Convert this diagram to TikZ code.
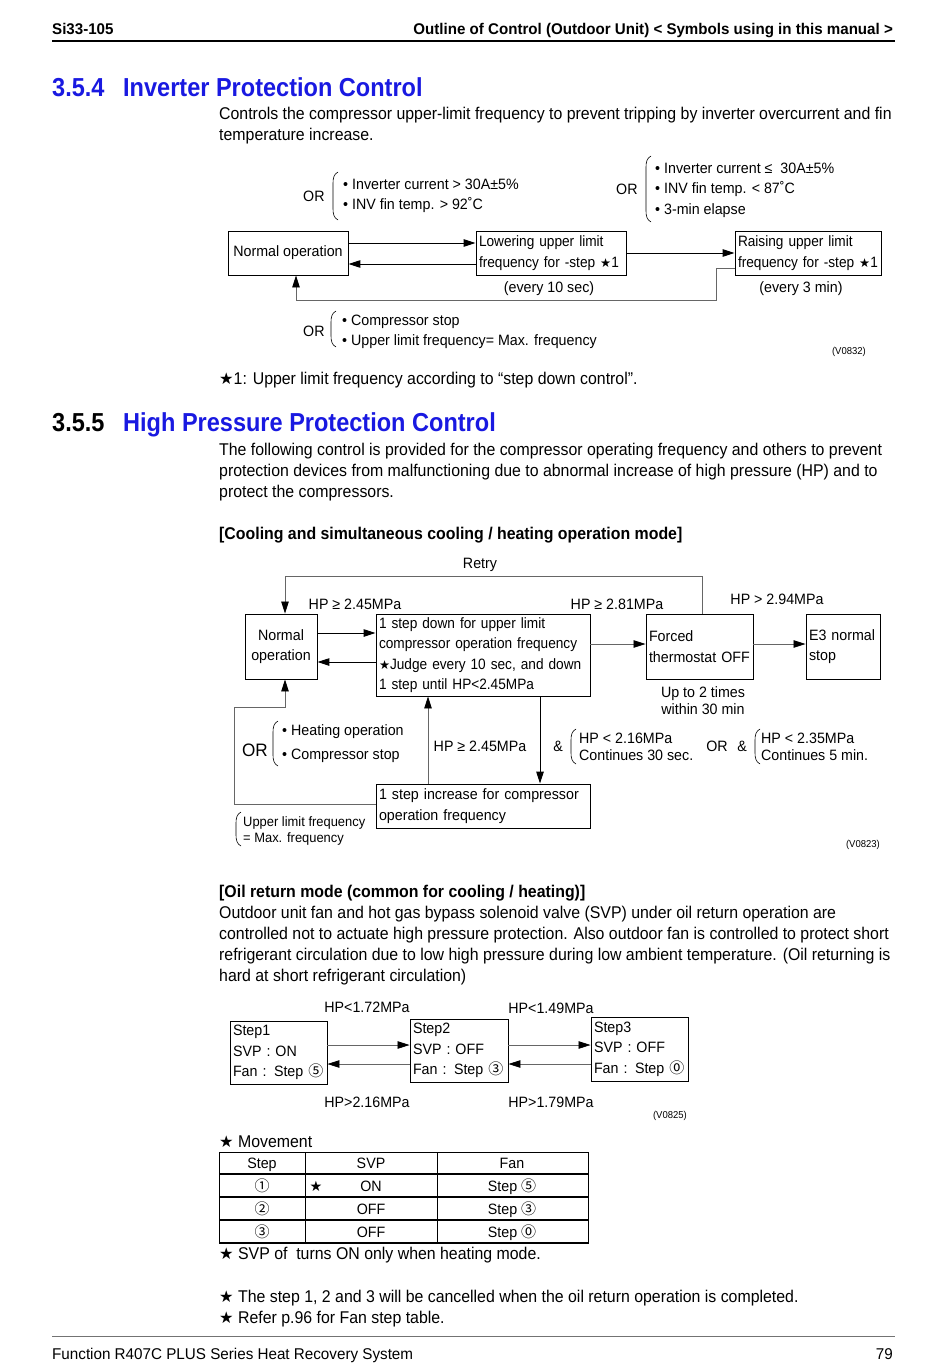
\documentclass[tikz,border=0pt]{standalone}
\usepackage{fontspec}
\setmainfont{Liberation Sans}
\newfontfamily\bodyf{Liberation Sans}[FakeStretch=0.934]
\newfontfamily\hdrf{Liberation Sans}[FakeStretch=0.975]
\newfontfamily\headf{Liberation Sans}[FakeStretch=0.905]
\newfontfamily\diagf{Liberation Sans}[FakeStretch=0.95]
\newfontfamily\diagn{Liberation Sans}[FakeStretch=0.91]
\newfontfamily\symf{DejaVu Sans}[Scale=0.95]
\newfontfamily\cjkf{Noto Sans CJK JP}[Scale=1.0]
\usetikzlibrary{arrows.meta,calc}
\definecolor{hblue}{RGB}{25,25,225}
\newcommand\st{{\symf ★}}
\newcommand\stb{{\symf\fontsize{13}{13}\selectfont ★}}
\newcommand\cn[1]{{\cjkf #1}}
\newcommand\fb{\bodyf\fontsize{17}{21}\selectfont}
\newcommand\fbb{\bodyf\bfseries\fontsize{17}{21}\selectfont}
\newcommand\fd{\diagf\fontsize{15}{20.5}\selectfont}
\newcommand\fdn{\diagn\fontsize{15}{20.5}\selectfont}
\newcommand\fs{\diagf\fontsize{13.6}{16}\selectfont}
\newcommand\fv{\diagf\fontsize{10}{12}\selectfont}
\newcommand\fh{\headf\bfseries\fontsize{26}{30}\selectfont}
\newcommand\fhd{\hdrf\bfseries\fontsize{15.5}{18}\selectfont}
\newcommand\fft{\hdrf\fontsize{15.6}{18}\selectfont}
\newcommand\brk[3]{\draw[brc] (#1+5,#2) .. controls (#1+1,#2+2) and (#1,#2+6) .. (#1,#2+11) -- (#1,#3-11) .. controls (#1,#3-6) and (#1+1,#3-2) .. (#1+5,#3);}
\begin{document}
\begin{tikzpicture}[x=1pt,y=-1pt,
  tx/.style={anchor=base west, inner sep=0pt, font=\fb},
  dx/.style={anchor=base west, inner sep=0pt, font=\fd},
  dc/.style={anchor=base, inner sep=0pt, font=\fd},
  box/.style={draw, line width=0.9pt, inner sep=3pt, font=\fd},
  arr/.style={line width=1pt, -{Triangle[length=12pt,width=7.5pt]}},
  arrg/.style={line width=0.7pt, draw=black!60, -{Triangle[length=12pt,width=7.5pt,color=black]}},
  brc/.style={line width=0.6pt}]
\useasboundingbox (0,0) rectangle (950,1370);
\fill[white] (0,0) rectangle (950,1370);

% header
\node[anchor=base west, inner sep=0pt, font=\fhd] (h1) at (52,35) {Si33-105};
\node[anchor=base east, inner sep=0pt, font=\fhd] (h2) at (893,35) {Outline of Control (Outdoor Unit) < Symbols using in this manual >};
\draw[line width=1.4pt] (52,41) -- (895,41);

% 3.5.4
\node[anchor=base west, inner sep=0pt, font=\fh, text=hblue] (n354) at (52,97) {3.5.4};
\node[anchor=base west, inner sep=0pt, font=\fh, text=hblue] (t354) at (123,97) {Inverter Protection Control};
\node[tx] (b1) at (219,120) {Controls the compressor upper-limit frequency to prevent tripping by inverter overcurrent and fin};
\node[tx] (b2) at (219,141) {temperature increase.};

% top diagram
\node[box, minimum width=120pt, minimum height=44pt] (no1) at (288,253) {Normal operation};
\node[box, font=\fdn, text width=144pt, align=left, minimum height=44pt] (lo) at (551,253) {\mbox{Lowering upper limit}\\\mbox{frequency for -step \stb1}};
\node[box, font=\fdn, text width=140pt, align=left, minimum height=44pt] (ra) at (808,253) {\mbox{Raising upper limit}\\\mbox{frequency for -step \stb1}};
\draw[arr] (no1.east |- 0,243) -- (lo.west |- 0,243);
\draw[arr] (lo.west |- 0,264) -- (no1.east |- 0,264);
\draw[arr] (lo.east) -- (ra.west);
\draw[arrg] (ra.west |- 0,268) -| (716,300) -| (no1.south -| 296,0);

\node[dx] (or1) at (303,201) {OR};
\brk{333}{172}{220}
\node[dx] (c1a) at (343,189) {• Inverter current > 30A±5\%};
\node[dx] (c1b) at (343,209) {• INV fin temp. > 92˚C};
\node[dx] (or2) at (616,194) {OR};
\brk{646}{156}{222}
\node[dx] (c2a) at (655,173) {• Inverter current ≤\ \ 30A±5\%};
\node[dx] (c2b) at (655,193) {• INV fin temp. < 87˚C};
\node[dx] (c2c) at (655,214) {• 3-min elapse};
\node[dc] (ev1) at (549,292) {(every 10 sec)};
\node[dc] (ev2) at (801,292) {(every 3 min)};
\node[dx] (or3) at (303,336) {OR};
\brk{331}{311}{347}
\node[dx] (c3a) at (342,325) {• Compressor stop};
\node[dx] (c3b) at (342,345) {• Upper limit frequency= Max. frequency};
\node[anchor=base east, inner sep=0pt, font=\fv] (v1) at (866,354) {(V0832)};
\node[tx] (fn1) at (219,384) {\st1: Upper limit frequency according to “step down control”.};

% 3.5.5
\node[anchor=base west, inner sep=0pt, font=\fh] (n355) at (52,431) {3.5.5};
\node[anchor=base west, inner sep=0pt, font=\fh, text=hblue] (t355) at (123,431) {High Pressure Protection Control};
\node[tx] (b3) at (219,455) {The following control is provided for the compressor operating frequency and others to prevent};
\node[tx] (b4) at (219,476) {protection devices from malfunctioning due to abnormal increase of high pressure (HP) and to};
\node[tx] (b5) at (219,497) {protect the compressors.};
\node[tx, font=\fbb] (sub1) at (219,539) {[Cooling and simultaneous cooling / heating operation mode]};

% middle diagram
\node[box, align=center, minimum width=72pt, minimum height=65pt] (nm) at (281,646.5) {Normal\\operation};
\node[box, font=\fdn, text width=208pt, align=left, minimum height=82pt] (sd) at (483,655) {\mbox{1 step down for upper limit}\\\mbox{compressor operation frequency}\\\mbox{\stb Judge every 10 sec, and down}\\\mbox{1 step until HP<2.45MPa}};
\node[box, text width=101pt, align=left, minimum height=65pt] (fo) at (699.5,646.5) {Forced\\\mbox{thermostat OFF}};
\node[box, text width=68pt, align=left, minimum height=65pt] (e3) at (843,646.5) {\mbox{E3 normal}\\stop};
\node[box, text width=208pt, align=left, minimum height=44pt] (inc) at (483,806) {\mbox{1 step increase for compressor}\\\mbox{operation frequency}};

\draw[arr] (nm.east |- 0,633) -- (sd.west |- 0,633);
\draw[arr] (sd.west |- 0,662) -- (nm.east |- 0,662);
\draw[arrg] (sd.east |- 0,644) -- (fo.west |- 0,644);
\draw[arrg] (fo.east |- 0,644) -- (e3.west |- 0,644);
\draw[arrg] (fo.north -| 702,0) |- (285,576) -- (nm.north -| 285,0);
\draw[arrg] (inc.north -| 428,0) -- (sd.south -| 428,0);
\draw[arr] (sd.south -| 540,0) -- (inc.north -| 540,0);
\draw[arrg] (inc.west |- 0,804) -| (234,707) -| (nm.south -| 285,0);

\node[dc] (rt) at (480,568) {Retry};
\node[dc] (hp1) at (355,609) {HP ≥ 2.45MPa};
\node[dc] (hp2) at (617,609) {HP ≥ 2.81MPa};
\node[dc] (hp3) at (777,604) {HP > 2.94MPa};
\node[dc] (up1) at (703,697) {Up to 2 times};
\node[dc] (up2) at (703,714) {within 30 min};
\node[dc] (hp4) at (480,751) {HP ≥ 2.45MPa};
\node[dc] (amp1) at (558,751) {\&};
\brk{571}{729}{764}
\node[dx] (d1a) at (579,743) {HP < 2.16MPa};
\node[dx] (d1b) at (579,760) {Continues 30 sec.};
\node[dc] (or5) at (717,751) {OR};
\node[dc] (amp2) at (742,751) {\&};
\brk{755}{729}{764}
\node[dx] (d2a) at (761,743) {HP < 2.35MPa};
\node[dx] (d2b) at (761,760) {Continues 5 min.};
\node[anchor=base, inner sep=0pt, font=\diagf\fontsize{18}{20}\selectfont] (or4) at (255,756) {OR};
\brk{273}{721}{766}
\node[dx] (d3a) at (282,735) {• Heating operation};
\node[dx] (d3b) at (282,759) {• Compressor stop};
\brk{236}{812}{846}
\node[anchor=base west, inner sep=0pt, font=\fs] (d4a) at (243,826) {Upper limit frequency};
\node[anchor=base west, inner sep=0pt, font=\fs] (d4b) at (243,842) {= Max. frequency};
\node[anchor=base east, inner sep=0pt, font=\fv] (v2) at (880,847) {(V0823)};

% oil return
\node[tx, font=\fbb] (sub2) at (219,897) {[Oil return mode (common for cooling / heating)]};
\node[tx] (b6) at (219,918) {Outdoor unit fan and hot gas bypass solenoid valve (SVP) under oil return operation are};
\node[tx] (b7) at (219,939) {controlled not to actuate high pressure protection. Also outdoor fan is controlled to protect short};
\node[tx] (b8) at (219,960) {refrigerant circulation due to low high pressure during low ambient temperature. (Oil returning is};
\node[tx] (b9) at (219,981) {hard at short refrigerant circulation)};

% bottom diagram
\node[box, text width=91pt, align=left, minimum height=63pt] (s1) at (278.5,1052.5) {Step1\\SVP : ON\\\mbox{Fan : Step \cn{⑤}}};
\node[box, text width=92pt, align=left, minimum height=63pt] (s2) at (459,1050.5) {Step2\\SVP : OFF\\\mbox{Fan : Step \cn{③}}};
\node[box, text width=91pt, align=left, minimum height=64pt] (s3) at (639.5,1049) {Step3\\SVP : OFF\\\mbox{Fan : Step \cn{⓪}}};
\draw[arrg] (s1.east |- 0,1045) -- (s2.west |- 0,1045);
\draw[arrg] (s2.west |- 0,1064) -- (s1.east |- 0,1064);
\draw[arrg] (s2.east |- 0,1045) -- (s3.west |- 0,1045);
\draw[arrg] (s3.west |- 0,1064) -- (s2.east |- 0,1064);
\node[dc] (l1) at (367,1012) {HP<1.72MPa};
\node[dc] (l2) at (551,1013) {HP<1.49MPa};
\node[dc] (l3) at (367,1107) {HP>2.16MPa};
\node[dc] (l4) at (551,1107) {HP>1.79MPa};
\node[anchor=base east, inner sep=0pt, font=\fv] (v3) at (687,1118) {(V0825)};

% table
\node[tx] (mv) at (219,1147) {\st\ Movement};
\draw[line width=0.9pt] (219,1152) rectangle (588,1243);
\foreach \yy in {1174,1197,1220} \draw[line width=1.3pt] (219,\yy) -- (588,\yy);
\draw[line width=1.3pt] (219,1243) -- (588,1243);
\foreach \xx in {305,437} \draw[line width=0.9pt] (\xx,1152) -- (\xx,1243);
\node[dc] (th1) at (262,1168) {Step};
\node[dc] (th2) at (371,1168) {SVP};
\node[dc] (th3) at (512,1168) {Fan};
\node[dc] (r1a) at (262,1191) {\cn{①}};
\node[dc] (r1s) at (316,1191) {\st};
\node[dc] (r1b) at (371,1191) {ON};
\node[dc] (r1c) at (512,1191) {Step \cn{⑤}};
\node[dc] (r2a) at (262,1214) {\cn{②}};
\node[dc] (r2b) at (371,1214) {OFF};
\node[dc] (r2c) at (512,1214) {Step \cn{③}};
\node[dc] (r3a) at (262,1237) {\cn{③}};
\node[dc] (r3b) at (371,1237) {OFF};
\node[dc] (r3c) at (512,1237) {Step \cn{⓪}};
\node[tx] (nt1) at (219,1259) {\st\ SVP of\ \ turns ON only when heating mode.};
\node[tx] (nt2) at (219,1302) {\st\ The step 1, 2 and 3 will be cancelled when the oil return operation is completed.};
\node[tx] (nt3) at (219,1323) {\st\ Refer p.96 for Fan step table.};

% footer
\draw[line width=0.8pt, black!55] (52,1336) -- (895,1336);
\node[anchor=base west, inner sep=0pt, font=\fft] (ft1) at (52,1359) {Function R407C PLUS Series Heat Recovery System};
\node[anchor=base east, inner sep=0pt, font=\fft] (ft2) at (893,1359) {79};
\end{tikzpicture}
\end{document}
